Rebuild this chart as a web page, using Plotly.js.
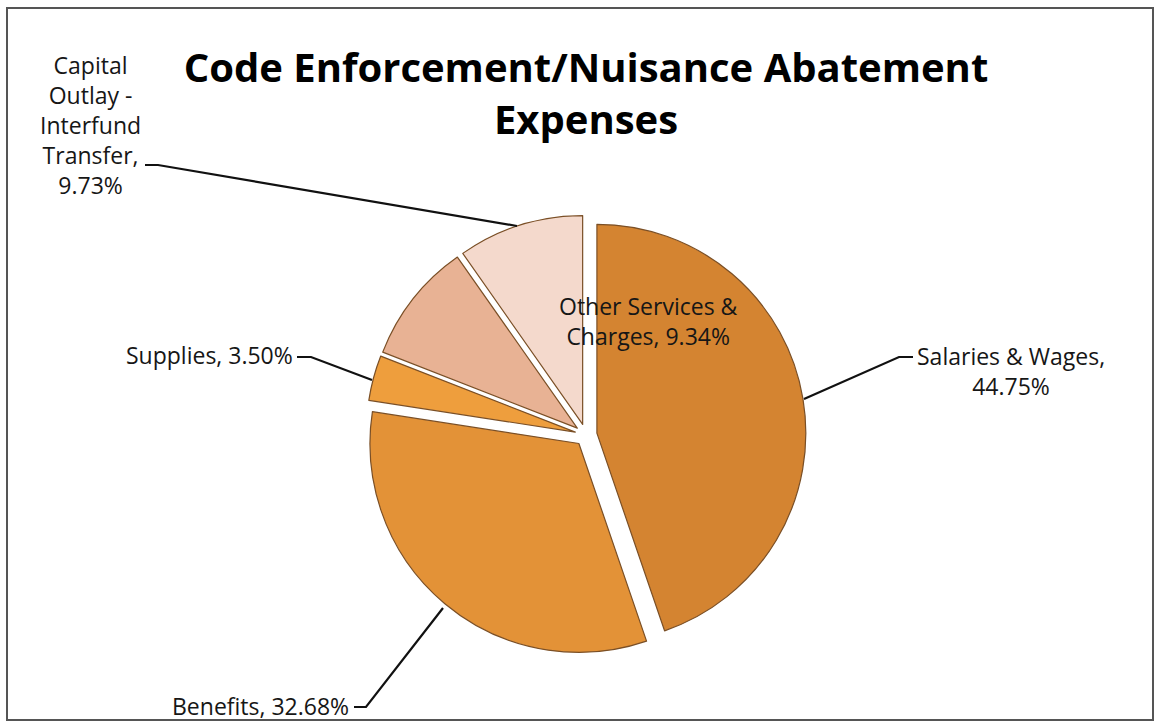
<!DOCTYPE html>
<html>
<head>
<meta charset="utf-8">
<script src="https://cdn.plot.ly/plotly-3.0.1.min.js"></script>
<style>html,body{margin:0;padding:0;background:#fff;}#chart{width:1155px;height:723px;}</style>
</head>
<body>
<div id="chart"></div>
<script>
// Data
const categories = ["Salaries & Wages", "Benefits", "Supplies", "Other Services & Charges", "Capital Outlay - Interfund Transfer"];
const values = [44.75, 32.68, 3.50, 9.34, 9.73];
const sliceColors = ["#D48431", "#E39237", "#EE9E3D", "#E8B294", "#F4D9CC"];
const chartTitle = "Code Enforcement/Nuisance Abatement<br>Expenses";

const W = 1155, H = 723;
const px = x => x / W;
const py = y => 1 - y / H;
const fmt = v => v.toFixed(2) + "%";

// Label texts built from the data arrays
const labelTexts = [
  "Salaries & Wages,<br>" + fmt(values[0]),
  "Benefits, " + fmt(values[1]),
  "Supplies, " + fmt(values[2]),
  "Other Services &<br>Charges, " + fmt(values[3]),
  "Capital<br>Outlay -<br>Interfund<br>Transfer,<br>" + fmt(values[4])
];
// label anchor positions (pixels)
const labelPos = [
  {x: 1011, y: 371},
  {x: 260, y: 706},
  {x: 209, y: 355},
  {x: 648, y: 321},
  {x: 90, y: 125}
];
// leader line paths (pixels)
const leaders = [
  [[913, 357], [899, 357], [804, 399]],
  [[354, 707], [366, 707], [443, 608]],
  [[297, 357], [311, 357], [372, 380]],
  null,
  [[145, 165], [158, 165], [517, 226]]
];

const trace = {
  type: "pie",
  labels: categories,
  values: values,
  sort: false,
  direction: "clockwise",
  rotation: 0,
  pull: 0.053,
  textinfo: "none",
  hoverinfo: "label+percent",
  marker: {colors: sliceColors, line: {color: "#7a4f26", width: 1.2}},
  domain: {x: [0.3169, 0.6978], y: [0.0941, 0.7026]},
  showlegend: false
};

const annotations = labelTexts.map((t, i) => ({
  text: t,
  x: px(labelPos[i].x), y: py(labelPos[i].y),
  xref: "paper", yref: "paper",
  xanchor: "center", yanchor: "middle",
  showarrow: false,
  align: "center",
  font: {family: "Open Sans, sans-serif", size: 23, color: "#161616"}
}));

const shapes = [];
leaders.forEach(l => {
  if (!l) return;
  const path = l.map((p, j) => (j ? "L" : "M") + " " + px(p[0]) + " " + py(p[1])).join(" ");
  shapes.push({type: "path", xref: "paper", yref: "paper", path: path,
    line: {color: "#111", width: 2.2}});
});
// chart frame
shapes.push({type: "rect", xref: "paper", yref: "paper",
  x0: px(7), x1: px(1153), y0: py(720), y1: py(8),
  line: {color: "#555", width: 2}, fillcolor: "rgba(0,0,0,0)"});

const layout = {
  width: W, height: H,
  margin: {l: 0, r: 0, t: 0, b: 0},
  paper_bgcolor: "#fff",
  title: {
    text: chartTitle,
    x: px(586), xanchor: "center",
    y: py(82), yanchor: "middle",
    font: {family: "Open Sans, sans-serif", size: 40, color: "#000", weight: "bold"}
  },
  annotations: annotations,
  shapes: shapes
};

Plotly.newPlot("chart", [trace], layout, {displayModeBar: false, staticPlot: true});
</script>
</body>
</html>
